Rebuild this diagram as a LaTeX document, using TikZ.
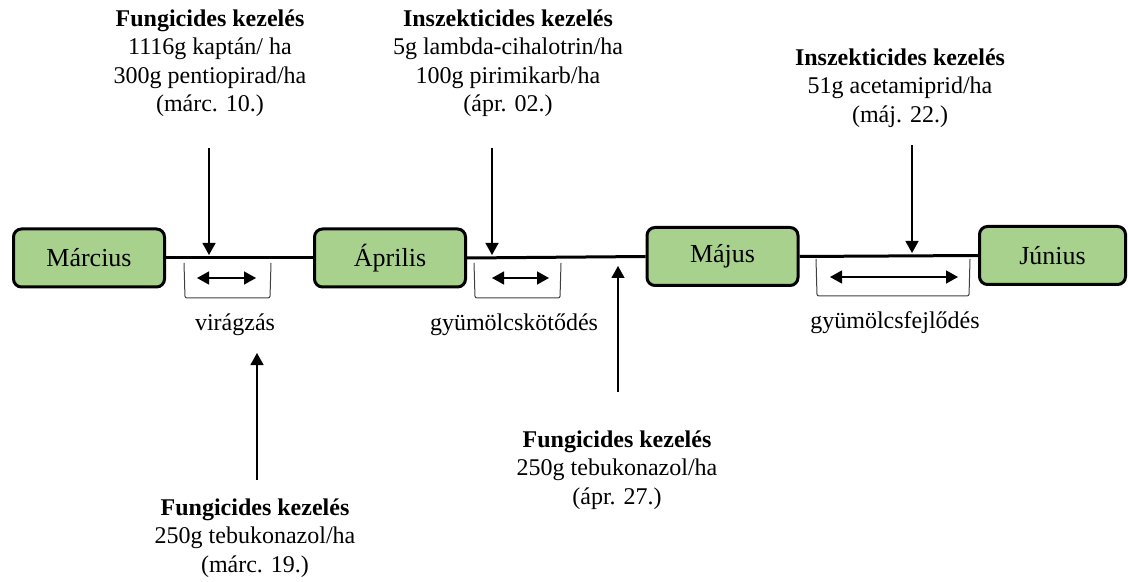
\documentclass[tikz,border=0pt]{standalone}
\usepackage{fontspec}
\setmainfont{Liberation Serif}
\usetikzlibrary{arrows.meta}
\definecolor{monthgreen}{HTML}{A9D18E}

\begin{document}
\begin{tikzpicture}[x=0.5pt,y=-0.5pt,month node/.style={draw=black,line width=1.5pt,fill=monthgreen,rounded corners=4pt,minimum width=75.5pt,minimum height=29pt,inner sep=0pt,font=\fontsize{13}{15}\selectfont},note/.style={align=center,inner sep=0pt,font=\fontsize{12}{14.25}\selectfont},treat arrow/.style={-{Triangle[width=6.5pt,length=6pt]},line width=0.65pt}]
\tikzstyle{phase arrow} = [{Triangle[width=6.5pt,length=6pt]}-{Triangle[width=6.5pt,length=6pt]},line width=0.65pt]
\tikzstyle{phase box} = [draw=black!75,line width=0.5pt,rounded corners=1pt]

\useasboundingbox (0,0) rectangle (1128,582);

\node[month node] (marc) at (89,258) {Március};
\node[month node] (apr) at (390,258) {Április};
\node[month node] (maj) at (722.5,256.5) {Május};
\node[month node,minimum width=73pt] (jun) at (1052.5,255.5) {Június};
\draw[line width=1.5pt] (marc.east) -- (apr.west);
\draw[line width=1.5pt] (apr.east) -- (maj.west);
\draw[line width=1.5pt] (maj.east) -- (jun.west);

% kezelések
\node[note] (kez1) at (210,63) {\textbf{Fungicides kezelés}\\1116g kaptán/ ha\\300g pentiopirad/ha\\(márc. 10.)};
\coordinate (kez1top) at (209,148);
\coordinate (kez1end) at (209,255);
\draw[treat arrow] (kez1top) -- (kez1end);

\node[note] (kez2) at (508,63) {\textbf{Inszekticides kezelés}\\5g lambda-cihalotrin/ha\\100g pirimikarb/ha\\(ápr. 02.)};
\coordinate (kez2top) at (492,148);
\coordinate (kez2end) at (492,255);
\draw[treat arrow] (kez2top) -- (kez2end);

\node[note] (kez3) at (900,88) {\textbf{Inszekticides kezelés}\\51g acetamiprid/ha\\(máj. 22.)};
\coordinate (kez3top) at (912,145);
\coordinate (kez3end) at (912,253);
\draw[treat arrow] (kez3top) -- (kez3end);

\node[note] (kez4) at (255,538) {\textbf{Fungicides kezelés}\\250g tebukonazol/ha\\(márc. 19.)};
\coordinate (kez4bot) at (257,480);
\coordinate (kez4end) at (257,353);
\draw[treat arrow] (kez4bot) -- (kez4end);

\node[note] (kez5) at (617,470) {\textbf{Fungicides kezelés}\\250g tebukonazol/ha\\(ápr. 27.)};
\coordinate (kez5bot) at (618,392);
\coordinate (kez5end) at (618,266);
\draw[treat arrow] (kez5bot) -- (kez5end);

% fenológiai szakaszok
\draw[phase box] (184,263) -- (185,298) -- (270,298) -- (271,263);
\coordinate (vir1) at (197,278);
\coordinate (vir2) at (256,278);
\draw[phase arrow] (vir1) -- (vir2);
\node[note] (vir) at (235,325) {virágzás};

\draw[phase box] (474,263) -- (475,298) -- (560,298) -- (561,263);
\coordinate (kot1) at (492,278);
\coordinate (kot2) at (549,278);
\draw[phase arrow] (kot1) -- (kot2);
\node[note] (kot) at (514,325) {gyümölcskötődés};

\draw[phase box] (816,259) -- (817,296) -- (969,296) -- (970,259);
\coordinate (fej1) at (830,277);
\coordinate (fej2) at (958,277);
\draw[phase arrow] (fej1) -- (fej2);
\node[note] (fej) at (895,323) {gyümölcsfejlődés};

\end{tikzpicture}
\end{document}
